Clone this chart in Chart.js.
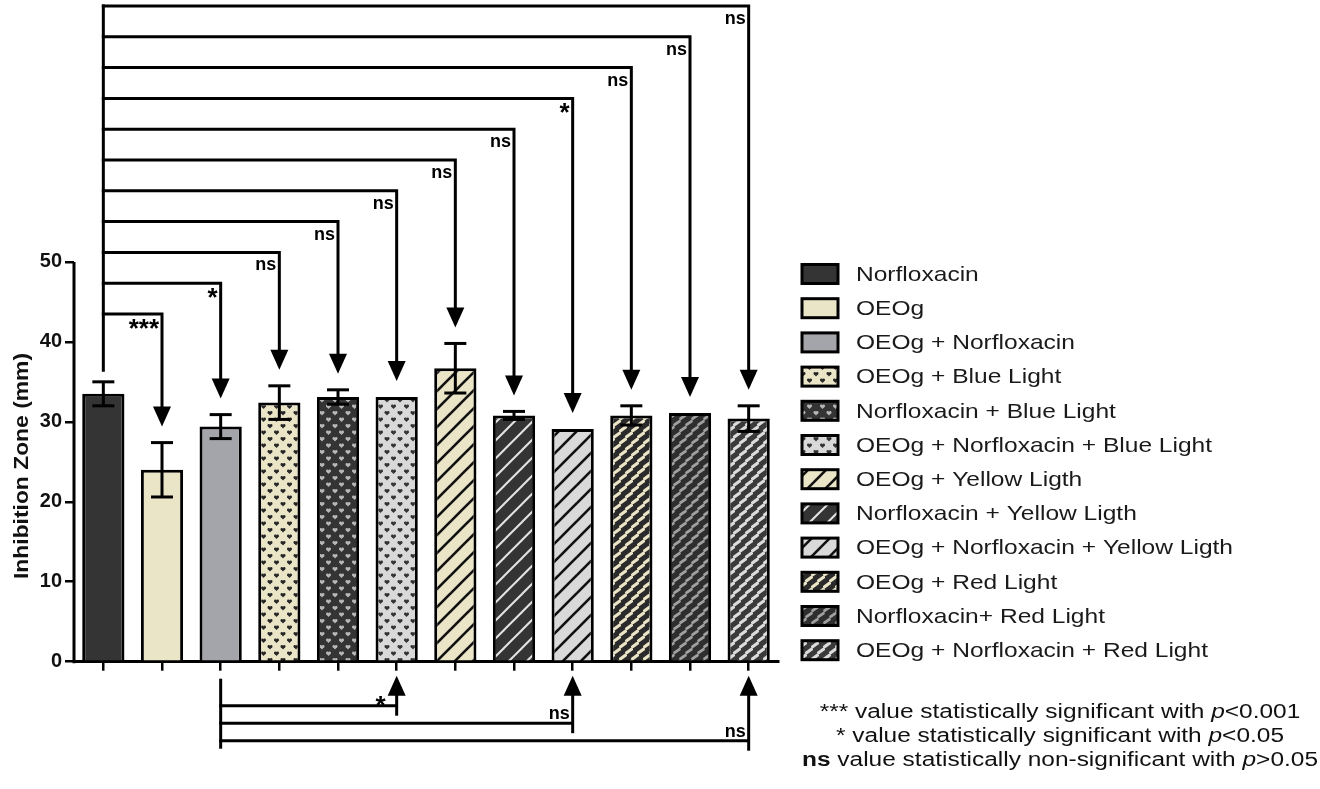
<!DOCTYPE html>
<html>
<head>
<meta charset="utf-8">
<script src="https://cdn.jsdelivr.net/npm/chart.js@4.4.0/dist/chart.umd.min.js"></script>
<style>
  html, body { margin: 0; padding: 0; background: #fff; }
  #wrap { width: 1320px; height: 789px; position: relative; }
</style>
</head>
<body>
<div id="wrap"><canvas id="myChart"></canvas></div>
<script>
const FONT = "'Liberation Sans', Arial, sans-serif";

// Groups shown on the x axis / legend
const barLabels = [
    'Norfloxacin',
    'OEOg',
    'OEOg + Norfloxacin',
    'OEOg + Blue Light',
    'Norfloxacin + Blue Light',
    'OEOg + Norfloxacin + Blue Light',
    'OEOg + Yellow Ligth',
    'Norfloxacin + Yellow Ligth',
    'OEOg + Norfloxacin + Yellow Ligth',
    'OEOg + Red Light',
    'Norfloxacin+ Red Light',
    'OEOg + Norfloxacin + Red Light',
];

// Inhibition zone (mm), mean and error
const zoneMeans = [33.5, 24.0, 29.4, 32.4, 33.1, 33.1, 36.7, 30.8, 29.1, 30.8, 31.1, 30.4];
const zoneErrors = [1.5, 3.4, 1.5, 2.1, 0.9, 0, 3.1, 0.5, 0, 1.2, 0, 1.6];

const yTickValues = [0, 10, 20, 30, 40, 50];

// Norfloxacin against every other group (bars 2..12)
const vsNorfloxacin = ['***', '*', 'ns', 'ns', 'ns', 'ns', 'ns', '*', 'ns', 'ns', 'ns'];
// OEOg + Norfloxacin against the three light combos
const comboTargets = [5, 8, 11];
const vsCombo = ['*', 'ns', 'ns'];

const footnotes = [
    [['***', ''], [' value statistically significant with ', ''], ['p', 'italic'], ['<0.001', '']],
    [['* ', ''], ['value statistically significant with ', ''], ['p', 'italic'], ['<0.05', '']],
    [['ns', 'bold'], [' value statistically non-significant with ', ''], ['p', 'italic'], ['>0.05', '']],
];

const ctx = document.querySelector('#myChart').getContext('2d');

// Pattern fills
const DARK = '#343434', CREAM = '#ebe5c8', GREY = '#a4a4ab', LIGHT = '#d9d9d9';

function makeTile(w, h, draw) {
    const c = document.createElement('canvas');
    c.width = w; c.height = h;
    draw(c.getContext('2d'), w, h);
    return ctx.createPattern(c, 'repeat');
}

function dots(bg, ink) {
    return makeTile(13, 13, (g, w, h) => {
        g.fillStyle = bg; g.fillRect(0, 0, w, h);
        g.fillStyle = ink;
        [[3.5, 3.5], [10, 10]].forEach(([cx, cy]) => {
            [-13, 0, 13].forEach(ox => [-13, 0, 13].forEach(oy => {
                const x = cx + ox, y = cy + oy;
                g.beginPath();
                g.arc(x - 1.2, y - 0.6, 1.3, 0, Math.PI * 2);
                g.arc(x + 1.2, y - 0.6, 1.3, 0, Math.PI * 2);
                g.fill();
                g.beginPath();
                g.moveTo(x - 2.5, y - 0.3); g.lineTo(x + 2.5, y - 0.3); g.lineTo(x, y + 2.6);
                g.closePath(); g.fill();
            }));
        });
    });
}

function stripes(bg, ink, lw) {
    return makeTile(18, 18, (g, w, h) => {
        g.fillStyle = bg; g.fillRect(0, 0, w, h);
        g.strokeStyle = ink; g.lineWidth = lw;
        [-18, 0, 18].forEach(o => {
            g.beginPath(); g.moveTo(o - 2, h + 2); g.lineTo(o + w + 2, -2); g.stroke();
        });
    });
}

function weave(ground, pill, lw) {
    return makeTile(12, 12, (g, w, h) => {
        g.fillStyle = ground; g.fillRect(0, 0, w, h);
        g.strokeStyle = pill; g.lineWidth = lw; g.lineCap = 'round';
        [[5, 3], [11, 9]].forEach(([cx, cy]) => {
            [-12, 0, 12].forEach(ox => [-12, 0, 12].forEach(oy => {
                g.beginPath();
                g.moveTo(cx + ox - 2.4, cy + oy + 1.7);
                g.lineTo(cx + ox + 2.4, cy + oy - 1.7);
                g.stroke();
            }));
        });
    });
}

const fills = [
    DARK, CREAM, GREY,
    dots(CREAM, '#262626'), dots(DARK, '#b8b8b8'), dots(LIGHT, '#333'),
    stripes(CREAM, '#111', 2.6), stripes(DARK, '#e4e4e4', 2), stripes(LIGHT, '#111', 2.6),
    weave('#2a2a2a', CREAM, 3.2), weave('#2e2e2e', '#a0a0a0', 2.8), weave('#3a3a3a', '#dcdcdc', 3.2),
];

function line(g, pts) {
    g.beginPath();
    g.moveTo(pts[0][0], pts[0][1]);
    for (let i = 1; i < pts.length; i++) g.lineTo(pts[i][0], pts[i][1]);
    g.stroke();
}

// dir 1 = points down, -1 = points up
function arrowHead(g, x, tipY, dir) {
    g.beginPath();
    g.moveTo(x, tipY);
    g.lineTo(x - 9, tipY - dir * 20);
    g.lineTo(x + 9, tipY - dir * 20);
    g.closePath();
    g.fill();
}

function markFont(mark) {
    return mark === 'ns' ? 'bold 18px ' + FONT : 'bold 26px ' + FONT;
}

// text drawn with a horizontal stretch (the original uses a wide face)
function wideText(g, text, x, y, sx) {
    g.save();
    g.translate(x, y);
    g.scale(sx, 1);
    g.fillText(text, 0, 0);
    g.restore();
}

const annotations = {
    id: 'annotations',
    afterDatasetsDraw(chart) {
        const g = chart.ctx, ys = chart.scales.y;
        const bars = chart.getDatasetMeta(0).data;
        g.save();
        g.strokeStyle = '#000';
        g.lineWidth = 3;
        bars.forEach((bar, i) => {
            const e = zoneErrors[i];
            if (!e) return;
            const hi = ys.getPixelForValue(zoneMeans[i] + e);
            const lo = ys.getPixelForValue(zoneMeans[i] - e);
            line(g, [[bar.x, hi], [bar.x, lo]]);
            line(g, [[bar.x - 11, hi], [bar.x + 11, hi]]);
            line(g, [[bar.x - 11, lo], [bar.x + 11, lo]]);
        });
        g.restore();
    },
    afterDraw(chart) {
        const g = chart.ctx, ys = chart.scales.y, area = chart.chartArea;
        const xs = chart.getDatasetMeta(0).data.map(b => b.x);
        const reach = i => ys.getPixelForValue(zoneMeans[i] + zoneErrors[i]);
        g.save();
        g.strokeStyle = '#000';
        g.fillStyle = '#000';
        g.lineWidth = 3;
        g.lineJoin = 'miter';

        // y axis line, 0..50 only
        line(g, [[area.left, ys.getPixelForValue(0) + 1.5], [area.left, ys.getPixelForValue(50)]]);

        // comparisons with Norfloxacin
        const n = vsNorfloxacin.length, step = 30.8, top = area.top;
        line(g, [[xs[0], top - 1.5], [xs[0], reach(0) - 10]]);
        vsNorfloxacin.forEach((mark, k) => {
            const i = k + 1;
            const level = top + (n - 1 - k) * step;
            const tip = reach(i) - 16;
            line(g, [[xs[0] - 1.5, level], [xs[i], level], [xs[i], tip - 12]]);
            arrowHead(g, xs[i], tip, 1);
            g.font = markFont(mark);
            g.textAlign = 'right';
            g.textBaseline = 'alphabetic';
            g.fillText(mark, xs[i] - 3, mark === 'ns' ? level + 18 : level + 23);
        });

        // comparisons with OEOg + Norfloxacin, under the axis
        const base = ys.getPixelForValue(0);
        const src = xs[2];
        line(g, [[src, base + 17], [src, base + 87]]);
        vsCombo.forEach((mark, j) => {
            const tx = xs[comboTargets[j]];
            const level = base + 44 + j * 17.5;
            line(g, [[src - 1.5, level], [tx, level]]);
            line(g, [[tx, level + 10], [tx, base + 14 + 12]]);
            arrowHead(g, tx, base + 14, -1);
            g.font = markFont(mark);
            g.textAlign = 'right';
            g.textBaseline = 'alphabetic';
            if (mark === 'ns') g.fillText(mark, tx - 3, level - 4);
            else g.fillText(mark, tx - 11, level + 8);
        });

        // y title
        g.save();
        g.translate(22, 466);
        g.rotate(-Math.PI / 2);
        g.font = 'bold 20px ' + FONT;
        g.fillStyle = '#111';
        g.textAlign = 'center';
        g.textBaseline = 'middle';
        const titleW = g.measureText('Inhibition Zone (mm)').width;
        wideText(g, 'Inhibition Zone (mm)', 0, 0, 226 / titleW);
        g.restore();

        // legend
        g.font = '21px ' + FONT;
        const longest = Math.max(...barLabels.map(l => g.measureText(l).width));
        const legendSx = 377 / longest;
        barLabels.forEach((label, i) => {
            const cy = 274 + i * 34.2;
            g.fillStyle = fills[i];
            g.fillRect(802, cy - 9.5, 36, 19);
            g.lineWidth = 3;
            g.strokeStyle = '#000';
            g.strokeRect(802, cy - 9.5, 36, 19);
            g.fillStyle = '#1a1a1a';
            g.font = '21px ' + FONT;
            g.textAlign = 'left';
            g.textBaseline = 'middle';
            wideText(g, label, 856, cy + 1, legendSx);
        });

        // footnotes
        g.fillStyle = '#111';
        g.textAlign = 'left';
        g.textBaseline = 'alphabetic';
        const widths = footnotes.map(parts => {
            let w = 0;
            parts.forEach(p => { g.font = (p[1] ? p[1] + ' ' : '') + '20px ' + FONT; w += g.measureText(p[0]).width; });
            return w;
        });
        const noteSx = 516 / widths[2];
        footnotes.forEach((parts, r) => {
            let x = 1060 - widths[r] * noteSx / 2;
            const y = 718 + r * 24;
            parts.forEach(p => {
                g.font = (p[1] ? p[1] + ' ' : '') + '20px ' + FONT;
                wideText(g, p[0], x, y, noteSx);
                x += g.measureText(p[0]).width * noteSx;
            });
        });
        g.restore();
    },
};

const data = {
    labels: barLabels,
    datasets: [{
        data: zoneMeans,
        backgroundColor: fills,
        borderColor: '#000',
        borderWidth: 3,
        barPercentage: 0.72,
        categoryPercentage: 1,
    }],
};

const config = {
    type: 'bar',
    data: data,
    options: {
        responsive: true,
        maintainAspectRatio: false,
        animation: false,
        layout: { padding: { top: 6, right: 542, bottom: 0, left: 0 } },
        plugins: {
            legend: { display: false },
            tooltip: { enabled: false },
        },
        scales: {
            x: {
                offset: true,
                ticks: { display: false },
                grid: {
                    offset: false,
                    drawOnChartArea: false,
                    drawTicks: true,
                    tickLength: 9,
                    color: '#000',
                    lineWidth: 2.5,
                },
                border: { display: true, color: '#000', width: 3 },
                afterFit: (s) => { s.height = 127.3; s.paddingLeft = 0; s.paddingRight = 0; },
            },
            y: {
                min: 0,
                max: 82,
                afterBuildTicks: (s) => { s.ticks = yTickValues.map(v => ({ value: v })); },
                ticks: {
                    color: '#111',
                    padding: 3,
                    font: { family: FONT, size: 20, weight: 'bold' },
                },
                grid: {
                    drawOnChartArea: false,
                    drawTicks: true,
                    tickLength: 9,
                    color: '#000',
                    lineWidth: 2.5,
                },
                border: { display: false },
                afterFit: (s) => { s.width = 74; s.paddingTop = 0; s.paddingBottom = 0; },
            },
        },
    },
    plugins: [annotations],
};

const myChart = new Chart(ctx, config);
</script>
</body>
</html>
